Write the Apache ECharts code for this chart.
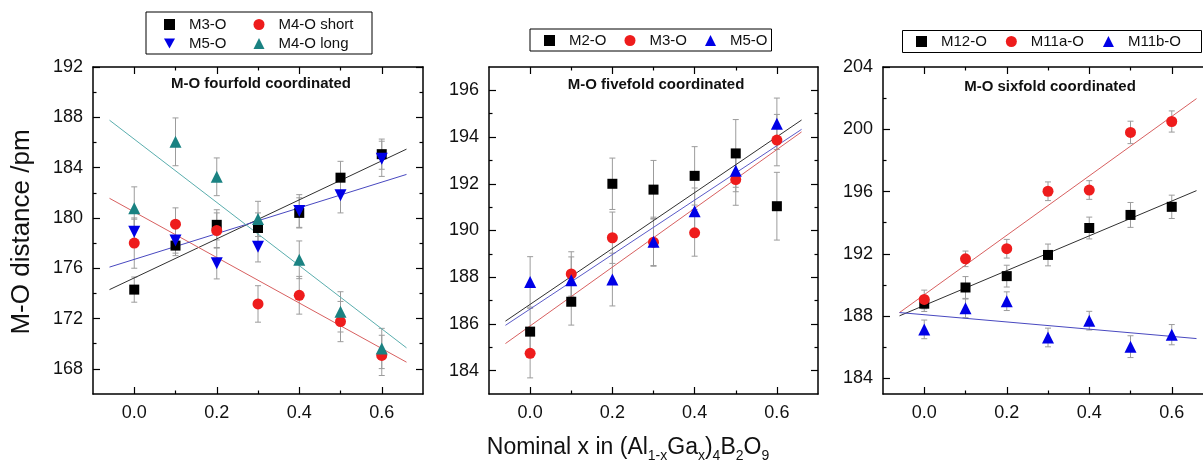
<!DOCTYPE html>
<html>
<head>
<meta charset="utf-8">
<script src="https://cdn.jsdelivr.net/npm/echarts@6/dist/echarts.min.js"></script>
<style>
  html, body { margin: 0; padding: 0; background: #fff; }
  #chart { width: 1203px; height: 468px; }
</style>
</head>
<body>
<div id="chart"></div>
<script>
// Nominal Ga content x of (Al1-xGax)4B2O9
const xValues = [0.0, 0.1, 0.2, 0.3, 0.4, 0.5, 0.6];

// Tick positions
const xLabelTicks = [0.0, 0.2, 0.4, 0.6];
const xMinorTicks = [0.1, 0.3, 0.5];
const fourYTicks = [168, 172, 176, 180, 184, 188, 192];
const fourYMinor = [170, 174, 178, 182, 186, 190];
const fiveYTicks = [184, 186, 188, 190, 192, 194, 196];
const fiveYMinor = [185, 187, 189, 191, 193, 195];
const sixYTicks = [184, 188, 192, 196, 200, 204];
const sixYMinor = [186, 190, 194, 198, 202];

// M-O distances (pm) and their uncertainties: fourfold coordinated
const fourM3 = [174.3, 177.8, 179.45, 179.2, 180.4, 183.2, 185.07];
const fourM3Err = [1.0, 0.8, 1.2, 1.2, 1.2, 1.3, 1.2];
const fourM4Short = [178.0, 179.5, 179.0, 173.16, 173.85, 171.76, 169.07];
const fourM4ShortErr = [2.0, 1.3, 1.4, 1.45, 1.5, 1.6, 1.6];
const fourM5 = [178.9, 178.2, 176.4, 177.7, 180.55, 181.8, 184.7];
const fourM5Err = [1.0, 1.0, 1.25, 1.2, 1.3, 1.4, 1.4];
const fourM4Long = [180.77, 186.05, 183.27, 179.92, 176.67, 172.53, 169.62];
const fourM4LongErr = [1.7, 1.9, 1.5, 1.4, 1.5, 1.6, 1.6];

// fivefold coordinated
const fiveM2 = [185.67, 186.95, 192.0, 191.75, 192.34, 193.3, 191.04];
const fiveM2Err = [1.0, 1.0, 1.1, 1.25, 1.25, 1.45, 1.45];
const fiveM3 = [184.74, 188.14, 189.69, 189.5, 189.9, 192.18, 193.87];
const fiveM3Err = [1.05, 0.95, 1.1, 1.0, 1.0, 1.1, 1.1];
const fiveM5 = [187.8, 187.87, 187.9, 189.52, 190.82, 192.56, 194.57];
const fiveM5Err = [1.08, 1.0, 1.13, 1.05, 1.0, 0.9, 1.1];

// sixfold coordinated
const sixM12 = [188.8, 189.84, 190.57, 191.93, 193.66, 194.5, 195.02];
const sixM12Err = [0.5, 0.7, 0.7, 0.7, 0.7, 0.8, 0.75];
const sixM11a = [189.07, 191.68, 192.33, 196.02, 196.1, 199.8, 200.5];
const sixM11aErr = [0.6, 0.5, 0.6, 0.6, 0.6, 0.72, 0.68];
const sixM11b = [187.15, 188.5, 188.96, 186.63, 187.71, 186.04, 186.81];
const sixM11bErr = [0.6, 0.6, 0.6, 0.6, 0.6, 0.7, 0.65];

// Linear fits: x span and end values
const fitX = [-0.06, 0.66];
const fourFitM3 = [174.3, 185.47];
const fourFitM4Short = [181.56, 168.53];
const fourFitM5 = [176.09, 183.46];
const fourFitM4Long = [187.77, 169.67];
const fiveFitM2 = [186.12, 194.73];
const fiveFitM3 = [185.16, 194.22];
const fiveFitM5 = [185.94, 194.33];
const sixFitM12 = [188.02, 196.06];
const sixFitM11a = [188.23, 201.97];
const sixFitM11b = [188.23, 186.56];

const FONT = '"Liberation Sans", Arial, Helvetica, sans-serif';
const C_BLACK = '#000000';
const C_RED = '#ee1c1c';
const C_BLUE = '#0000e6';
const C_TEAL = '#1a8282';
const DOWN_TRI = 'path://M0,0 L10,0 L5,9 Z';

const panels = [
  {
    left: 93, width: 330, yMin: 166, yMax: 192,
    yTicks: fourYTicks, yMinor: fourYMinor,
    title: 'M-O fourfold coordinated', titleX: 261, titleY: 84,
    sets: [
      { name: 'M3-O', vals: fourM3, err: fourM3Err, fit: fourFitM3, color: C_BLACK, fitColor: '#303030', symbol: 'rect', size: 10 },
      { name: 'M4-O short', vals: fourM4Short, err: fourM4ShortErr, fit: fourFitM4Short, color: C_RED, fitColor: '#d86060', symbol: 'circle', size: 11 },
      { name: 'M5-O', vals: fourM5, err: fourM5Err, fit: fourFitM5, color: C_BLUE, fitColor: '#4848c0', symbol: DOWN_TRI, size: 12 },
      { name: 'M4-O long', vals: fourM4Long, err: fourM4LongErr, fit: fourFitM4Long, color: C_TEAL, fitColor: '#5aaeae', symbol: 'triangle', size: 12 }
    ]
  },
  {
    left: 489, width: 329, yMin: 183, yMax: 197,
    yTicks: fiveYTicks, yMinor: fiveYMinor,
    title: 'M-O fivefold coordinated', titleX: 656, titleY: 85,
    sets: [
      { name: 'M2-O', vals: fiveM2, err: fiveM2Err, fit: fiveFitM2, color: C_BLACK, fitColor: '#303030', symbol: 'rect', size: 10 },
      { name: 'M3-O', vals: fiveM3, err: fiveM3Err, fit: fiveFitM3, color: C_RED, fitColor: '#d86060', symbol: 'circle', size: 11 },
      { name: 'M5-O', vals: fiveM5, err: fiveM5Err, fit: fiveFitM5, color: C_BLUE, fitColor: '#5a5ac8', symbol: 'triangle', size: 12 }
    ]
  },
  {
    left: 883, width: 330, yMin: 183, yMax: 204,
    yTicks: sixYTicks, yMinor: sixYMinor,
    title: 'M-O sixfold coordinated', titleX: 1050, titleY: 87,
    sets: [
      { name: 'M12-O', vals: sixM12, err: sixM12Err, fit: sixFitM12, color: C_BLACK, fitColor: '#303030', symbol: 'rect', size: 10 },
      { name: 'M11a-O', vals: sixM11a, err: sixM11aErr, fit: sixFitM11a, color: C_RED, fitColor: '#d86060', symbol: 'circle', size: 11 },
      { name: 'M11b-O', vals: sixM11b, err: sixM11bErr, fit: sixFitM11b, color: C_BLUE, fitColor: '#4848c0', symbol: 'triangle', size: 12 }
    ]
  }
];

const GRID_TOP = 67;
const GRID_HEIGHT = 327;
const CHART_W = 1203;

function axis(gridIndex, position, min, max, ticks, tickLen, showLine, labelValues, fmt) {
  return {
    type: 'value', gridIndex: gridIndex, position: position, min: min, max: max,
    axisLine: { show: showLine, onZero: false, lineStyle: { color: '#000', width: 1.5 } },
    axisTick: { show: true, inside: true, length: tickLen, customValues: ticks, lineStyle: { color: '#000', width: 1.2 } },
    axisLabel: labelValues
      ? { show: true, customValues: labelValues, formatter: fmt, fontSize: 18, fontFamily: FONT, color: '#111', margin: 10 }
      : { show: false },
    splitLine: { show: false }
  };
}

function renderErrorBar(params, api) {
  const x = api.value(0);
  const top = api.coord([x, api.value(2)]);
  const bot = api.coord([x, api.value(1)]);
  const cap = 3;
  const style = { stroke: '#9c9c9c', lineWidth: 1 };
  return {
    type: 'group',
    children: [
      { type: 'line', shape: { x1: top[0], y1: top[1], x2: bot[0], y2: bot[1] }, style: style },
      { type: 'line', shape: { x1: top[0] - cap, y1: top[1], x2: top[0] + cap, y2: top[1] }, style: style },
      { type: 'line', shape: { x1: bot[0] - cap, y1: bot[1], x2: bot[0] + cap, y2: bot[1] }, style: style }
    ]
  };
}

const grids = [], xAxes = [], yAxes = [], series = [];
const xFmt = v => v.toFixed(1);
const yFmt = v => String(Math.round(v));

panels.forEach((p, g) => {
  grids.push({
    left: p.left, top: GRID_TOP, height: GRID_HEIGHT,
    right: CHART_W - p.left - p.width,
    outerBoundsMode: 'none', containLabel: false
  });
  // bottom (labelled), bottom minor, top, top minor
  xAxes.push(axis(g, 'bottom', -0.1, 0.7, xLabelTicks, 7, true, xLabelTicks, xFmt));
  xAxes.push(axis(g, 'bottom', -0.1, 0.7, xMinorTicks, 3.5, false, null));
  xAxes.push(axis(g, 'top', -0.1, 0.7, xLabelTicks, 7, true, null));
  xAxes.push(axis(g, 'top', -0.1, 0.7, xMinorTicks, 3.5, false, null));
  // left (labelled), left minor, right, right minor
  yAxes.push(axis(g, 'left', p.yMin, p.yMax, p.yTicks, 7, true, p.yTicks, yFmt));
  yAxes.push(axis(g, 'left', p.yMin, p.yMax, p.yMinor, 3.5, false, null));
  yAxes.push(axis(g, 'right', p.yMin, p.yMax, p.yTicks, 7, true, null));
  yAxes.push(axis(g, 'right', p.yMin, p.yMax, p.yMinor, 3.5, false, null));

  const xi = g * 4, yi = g * 4;
  p.sets.forEach(s => {
    series.push({
      type: 'custom', xAxisIndex: xi, yAxisIndex: yi, z: 1, silent: true,
      renderItem: renderErrorBar,
      data: xValues.map((x, i) => [x, s.vals[i] - s.err[i], s.vals[i] + s.err[i]])
    });
  });
  p.sets.forEach(s => {
    series.push({
      type: 'line', xAxisIndex: xi, yAxisIndex: yi, z: 2, silent: true,
      showSymbol: false, symbol: 'none',
      lineStyle: { color: s.fitColor, width: 1 },
      data: fitX.map((x, i) => [x, s.fit[i]])
    });
  });
  p.sets.forEach(s => {
    series.push({
      type: 'scatter', name: s.name, xAxisIndex: xi, yAxisIndex: yi, z: 3,
      symbol: s.symbol, symbolSize: s.size,
      itemStyle: { color: s.color, opacity: 1 },
      data: xValues.map((x, i) => [x, s.vals[i]])
    });
  });
});

function legendItem(set) {
  return { name: set.name, icon: set.symbol, itemStyle: { color: set.color } };
}

// square icon box; the label is pushed right so that it sits clear of the marker
const legendText = { fontSize: 15, fontFamily: FONT, color: '#111', padding: [0, 0, 0, 9] };
const legendBase = {
  orient: 'horizontal', itemWidth: 11, itemHeight: 11, selectedMode: false, textStyle: legendText
};
const legends = [
  Object.assign({}, legendBase, {
    left: 164, top: 17, padding: 0, itemGap: 27,
    data: [legendItem(panels[0].sets[0]), legendItem(panels[0].sets[1])]
  }),
  Object.assign({}, legendBase, {
    left: 164, top: 36, padding: 0, itemGap: 27,
    data: [legendItem(panels[0].sets[2]), legendItem(panels[0].sets[3])]
  }),
  Object.assign({}, legendBase, {
    left: 530, top: 29, padding: [4, 4, 3, 14], itemGap: 18,
    borderColor: '#000', borderWidth: 1,
    data: panels[1].sets.map(legendItem)
  }),
  Object.assign({}, legendBase, {
    left: 916, top: 34, padding: 0, itemGap: 19,
    data: panels[2].sets.map(legendItem)
  })
];

const frameStyle = { fill: 'none', stroke: '#000', lineWidth: 1 };
const graphics = [
  { type: 'rect', shape: { x: 146, y: 12, width: 226, height: 42 }, style: frameStyle },
  { type: 'rect', shape: { x: 902.5, y: 30.5, width: 299, height: 22 }, style: frameStyle },
  {
    type: 'text', x: 22, y: 232, rotation: Math.PI / 2,
    style: { text: 'M-O distance /pm', font: '26px ' + FONT, fill: '#111', align: 'center', verticalAlign: 'middle' }
  },
  {
    type: 'text', x: 628, y: 448,
    style: {
      text: '{m|Nominal x in (Al}{s|1-x}{m|Ga}{s|x}{m|)}{s|4}{m|B}{s|2}{m|O}{s|9}',
      align: 'center', verticalAlign: 'middle',
      rich: {
        m: { fontSize: 23, fontFamily: FONT, fill: '#111', lineHeight: 30 },
        s: { fontSize: 14, fontFamily: FONT, fill: '#111', lineHeight: 14, verticalAlign: 'bottom' }
      }
    }
  }
];
panels.forEach(p => {
  graphics.push({
    type: 'text', x: p.titleX, y: p.titleY,
    style: { text: p.title, font: 'bold 15px ' + FONT, fill: '#111', align: 'center', verticalAlign: 'middle' }
  });
});

const chart = echarts.init(document.getElementById('chart'), null, { renderer: 'canvas' });
chart.setOption({
  animation: false,
  backgroundColor: '#fff',
  grid: grids,
  xAxis: xAxes,
  yAxis: yAxes,
  legend: legends,
  graphic: graphics,
  series: series
});
</script>
</body>
</html>
